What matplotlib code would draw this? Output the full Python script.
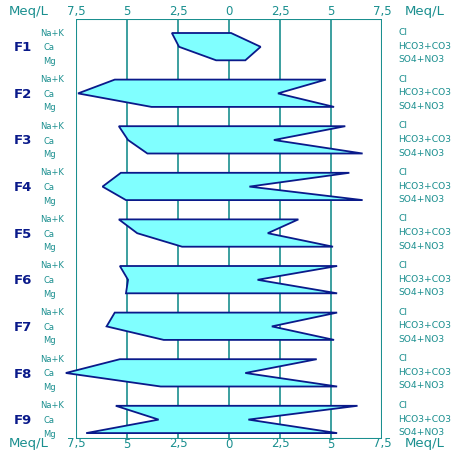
import numpy as np
import matplotlib
matplotlib.use('Agg')
from matplotlib import pyplot as plt

# Stiff diagram, meq/L; cations to the left, anions to the right
samples = ['F1', 'F2', 'F3', 'F4', 'F5', 'F6', 'F7', 'F8', 'F9']
na_k = [2.8, 5.6, 5.4, 5.3, 5.4, 5.35, 5.6, 5.35, 5.55]
ca = [2.45, 7.4, 4.95, 6.2, 4.5, 4.95, 6.0, 8.0, 3.45]
mg = [0.63, 3.8, 4.0, 5.05, 2.3, 5.05, 3.2, 3.35, 7.0]
cl = [0.1, 4.75, 5.7, 5.9, 3.4, 5.3, 5.3, 4.3, 6.3]
hco3 = [1.55, 2.4, 2.2, 1.0, 1.9, 1.4, 2.1, 0.8, 0.95]
so4 = [0.8, 5.15, 6.55, 6.55, 5.1, 5.3, 5.15, 5.3, 5.3]

cation_labels = ['Na+K', 'Ca', 'Mg']
anion_labels = ['Cl', 'HCO3+CO3', 'SO4+NO3']
ticks = [-7.5, -5, -2.5, 0, 2.5, 5, 7.5]
tick_labels = ['7,5', '5', '2,5', '0', '2,5', '5', '7,5']

TEAL = '#1a8f8f'
NAVY = '#0a1a8a'
FILL = '#80ffff'

fig = plt.figure(figsize=(4.6, 4.5), dpi=100)
ax = fig.add_axes([76 / 460, 1 - 439 / 450, 306 / 460, 420 / 450])
ax.set_xlim(-7.5, 7.5)
ax.set_ylim(420, 0)
ax.axis('off')

# grid and frame
for x in ticks:
    ax.plot([x, x], [0, 420], color=TEAL, lw=1.5 if abs(x) == 7.5 else 1.2,
            zorder=1, solid_capstyle='butt')
for y in (0, 420):
    ax.plot([-7.5, 7.5], [y, y], color=TEAL, lw=1.5, zorder=1)

step = 46.6
offs = np.array([0, 13.8, 27.3])
for i, name in enumerate(samples):
    ys = 14 + i * step + offs
    xs = [-na_k[i], -ca[i], -mg[i], so4[i], hco3[i], cl[i]]
    yy = [ys[0], ys[1], ys[2], ys[2], ys[1], ys[0]]
    ax.fill(xs, yy, facecolor=FILL, edgecolor=NAVY, lw=1.3, zorder=3,
            clip_on=False)

    ax.text(-10.1, ys[1] + 1, name, color=NAVY, fontsize=9.5,
            fontweight='heavy', ha='center', va='center')
    for j, lab in enumerate(cation_labels):
        if j == 0:
            ax.text(-8.1, ys[j], lab, color=TEAL, fontsize=6, ha='right',
                    va='center')
        else:
            ax.text(-9.1, ys[j] + 1, lab, color=TEAL, fontsize=6, ha='left',
                    va='center')
    for j, lab in enumerate(anion_labels):
        ax.text(8.3, ys[j] - 0.5, lab, color=TEAL, fontsize=6.6, ha='left',
                va='center')

for x, lab in zip(ticks, tick_labels):
    ax.text(x, -1, lab, color=TEAL, fontsize=8.5, ha='center', va='bottom')
    ax.text(x, 428.5, lab, color=TEAL, fontsize=8.5, ha='center',
            va='baseline')
for y, va in ((-1, 'bottom'), (428.5, 'baseline')):
    ax.text(-8.85, y, 'Meq/L', color=TEAL, fontsize=9.5, ha='right', va=va)
    ax.text(8.6, y, 'Meq/L', color=TEAL, fontsize=9.5, ha='left', va=va)

fig.savefig('out.png', dpi=100)
